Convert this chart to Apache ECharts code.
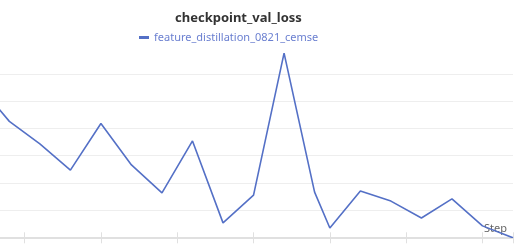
<!DOCTYPE html>
<html>
<head>
<meta charset="utf-8">
<script src="https://cdn.jsdelivr.net/npm/echarts@6/dist/echarts.min.js"></script>
<style>
html,body{margin:0;padding:0;background:#fff;}
#c{width:517px;height:249px;}
</style>
</head>
<body>
<div id="c"></div>
<script>
const titleText = 'checkpoint_val_loss';
const seriesName = 'feature_distillation_0821_cemse';
const xName = 'Step';
const steps = [2000,4000,6000,8000,10000,12000,14000,16000,18000,20000,22000,24000,25000,27000,29000,31000,33000,35000,37000];
const lossValues = [1.160,1.026,0.943,0.847,1.018,0.866,0.763,0.954,0.653,0.755,1.277,0.766,0.634,0.770,0.733,0.671,0.741,0.642,0.598];

const chart = echarts.init(document.getElementById('c'), null, {renderer:'canvas'});
chart.setOption({
  animation:false,
  backgroundColor:'#fff',
  title:{
    text:titleText,
    left:170, top:7,
    textStyle:{fontFamily:'Noto Sans', fontSize:13, fontWeight:'bold', color:'#333'}
  },
  legend:{
    left:134, top:27,
    icon:'rect', itemWidth:10, itemHeight:3, itemGap:10,
    textStyle:{fontFamily:'Noto Sans', fontSize:11, color:'#6a7fd0'},
    data:[seriesName]
  },
  grid:{left:-51.7, right:4, top:46.8, bottom:11.7, containLabel:false, outerBoundsMode:'none'},
  xAxis:[{
    type:'value', min:0, max:37000, interval:5000,
    name:xName, nameLocation:'end', nameGap:-6,
    nameTextStyle:{fontFamily:'Noto Sans', fontSize:11, color:'#666', align:'right', verticalAlign:'bottom', padding:[0,0,3,0]},
    axisLine:{onZero:false, lineStyle:{color:'#e0e0e0', width:2}},
    axisTick:{show:true, length:6, lineStyle:{color:'#e0e0e0'}},
    axisLabel:{show:false},
    splitLine:{show:false}
  },{
    type:'value', min:0, max:37000, interval:5000, position:'bottom',
    axisLine:{show:false, onZero:false},
    axisTick:{show:true, inside:true, length:5, lineStyle:{color:'#e0e0e0'}},
    axisLabel:{show:false},
    splitLine:{show:false}
  }],
  yAxis:{
    type:'value', min:0.6, max:1.3, interval:0.1,
    axisLine:{show:false}, axisTick:{show:false}, axisLabel:{show:false},
    splitLine:{show:true, showMaxLine:false, lineStyle:{color:'#eeeeee', width:1}}
  },
  series:[{
    name:seriesName,
    type:'line',
    showSymbol:false,
    lineStyle:{color:'#5470c6', width:1.6},
    itemStyle:{color:'#5470c6'},
    data:steps.map((s,i)=>[s, lossValues[i]])
  }]
});
</script>
</body>
</html>
